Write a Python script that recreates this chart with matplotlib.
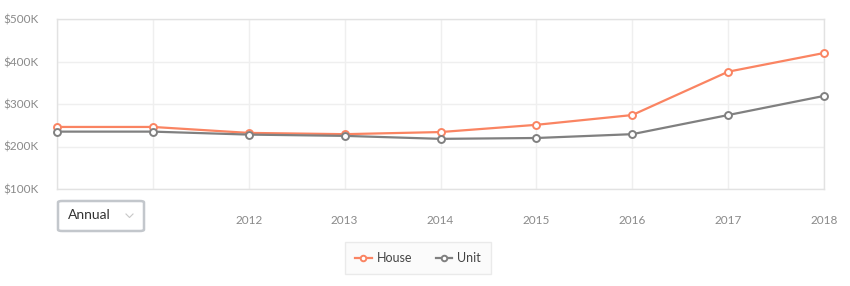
import matplotlib.pyplot as plt
from matplotlib.patches import FancyBboxPatch
from matplotlib.lines import Line2D

plt.rcParams['font.family'] = ['Lato', 'DejaVu Sans']

years = [2010, 2011, 2012, 2013, 2014, 2015, 2016, 2017, 2018]
year_labels = ['', '', '2012', '2013', '2014', '2015', '2016', '2017', '2018']
house = [246, 246, 232, 229, 234, 251, 274, 376, 420]
unit = [235, 235, 228, 225, 218, 220, 229, 274, 319]
y_ticks = [100, 200, 300, 400, 500]

house_col = '#fa8462'
unit_col = '#808080'
text_col = '#8a8a8a'

fig = plt.figure(figsize=(8.5, 2.86), dpi=100)
ax = fig.add_axes([57 / 850, 1 - 189 / 286, 767 / 850, 170 / 286])

ax.plot(years, house, color=house_col, lw=1.6, marker='o', ms=5,
        mfc='white', mec=house_col, mew=1.4, label='House', zorder=3)
ax.plot(years, unit, color=unit_col, lw=1.6, marker='o', ms=5,
        mfc='white', mec=unit_col, mew=1.4, label='Unit', zorder=3)

ax.set_xlim(2010, 2018)
ax.set_ylim(100, 500)
ax.set_xticks(years)
ax.set_xticklabels(year_labels)
ax.set_yticks(y_ticks)
ax.set_yticklabels([f'${v}K' for v in y_ticks])
ax.tick_params(length=0, colors=text_col, labelsize=8.5)
ax.tick_params(axis='x', pad=19)
ax.tick_params(axis='y', pad=13)
ax.grid(True, color='#efefef', lw=1)
for s in ax.spines.values():
    s.set_color('#e2e2e2')
    s.set_linewidth(1)
for ln in ax.lines:
    ln.set_clip_on(False)

# Annual dropdown box
box = FancyBboxPatch((58 / 850, 1 - 231 / 286), 86 / 850, 30 / 286,
                     boxstyle='round,pad=0,rounding_size=0.005',
                     transform=fig.transFigure, facecolor='white',
                     edgecolor='#c3c7cc', lw=1.8)
fig.patches.append(box)
fig.text(68 / 850, 1 - 215 / 286, 'Annual', fontsize=10, color='#333333',
         va='center', ha='left')
chev_x = [126 / 850, 129.5 / 850, 133 / 850]
chev_y = [1 - 214 / 286, 1 - 217.5 / 286, 1 - 214 / 286]
fig.lines.append(Line2D(chev_x, chev_y, transform=fig.transFigure,
                        color='#c8c8c8', lw=0.8))

leg = fig.legend(loc='center', bbox_to_anchor=(418 / 850, 1 - 258 / 286),
                 ncol=2, frameon=True, fontsize=9, handlelength=1.3,
                 handletextpad=0.4, columnspacing=1.9, borderpad=0.8,
                 markerscale=0.8, fancybox=False)
leg.get_frame().set_facecolor('#fafafa')
leg.get_frame().set_edgecolor('#e6e6e6')
for t in leg.get_texts():
    t.set_color('#444444')

fig.savefig('out.png', dpi=100)
